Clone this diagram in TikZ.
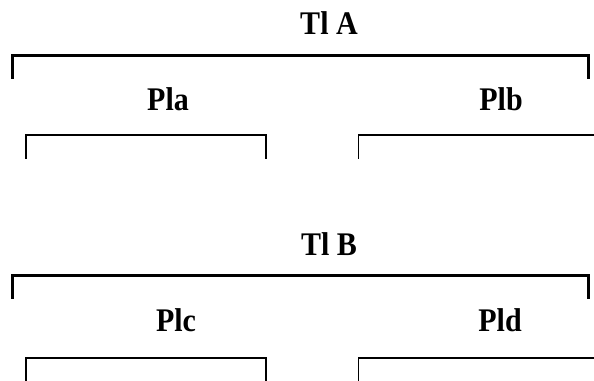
\documentclass[tikz,border=0pt]{standalone}
\usepackage{fontspec}
\setmainfont{Liberation Serif}
\newcommand{\tallbold}[1]{\scalebox{1}[1.1]{#1}}
\begin{document}
\begin{tikzpicture}[x=1pt,y=1pt,
  title/.style={font=\fontsize{30}{32}\selectfont\bfseries, inner sep=0pt, anchor=base},
  outer/.style={line width=3pt, line join=miter, line cap=butt},
  inner/.style={line width=1.8pt, line join=miter, line cap=butt}]
  \useasboundingbox (0,0) rectangle (594,380);
  \clip (0,0) rectangle (594,380);

  % upper group
  \node[title] (tla) at (329,345.5) {\tallbold{Tl A}};
  \draw[outer] (12.5,301) -- (12.5,324.5) -- (588.5,324.5) -- (588.5,301);
  \node[title] (pla) at (168,269.5) {\tallbold{Pla}};
  \node[title] (plb) at (501,269.5) {\tallbold{Plb}};
  \draw[inner] (26,221) -- (26,245) -- (266,245) -- (266,221);
  \draw[inner] (358.5,221) -- (358.5,245) -- (600,245);

  % lower group
  \node[title] (tlb) at (329,124) {\tallbold{Tl B}};
  \draw[outer] (12.5,81) -- (12.5,104) -- (588.5,104) -- (588.5,81);
  \node[title] (plc) at (176,48) {\tallbold{Plc}};
  \node[title] (pld) at (500,48) {\tallbold{Pld}};
  \draw[inner] (26,-5) -- (26,22) -- (266,22) -- (266,-5);
  \draw[inner] (358.5,-5) -- (358.5,22) -- (600,22);
\end{tikzpicture}
\end{document}
